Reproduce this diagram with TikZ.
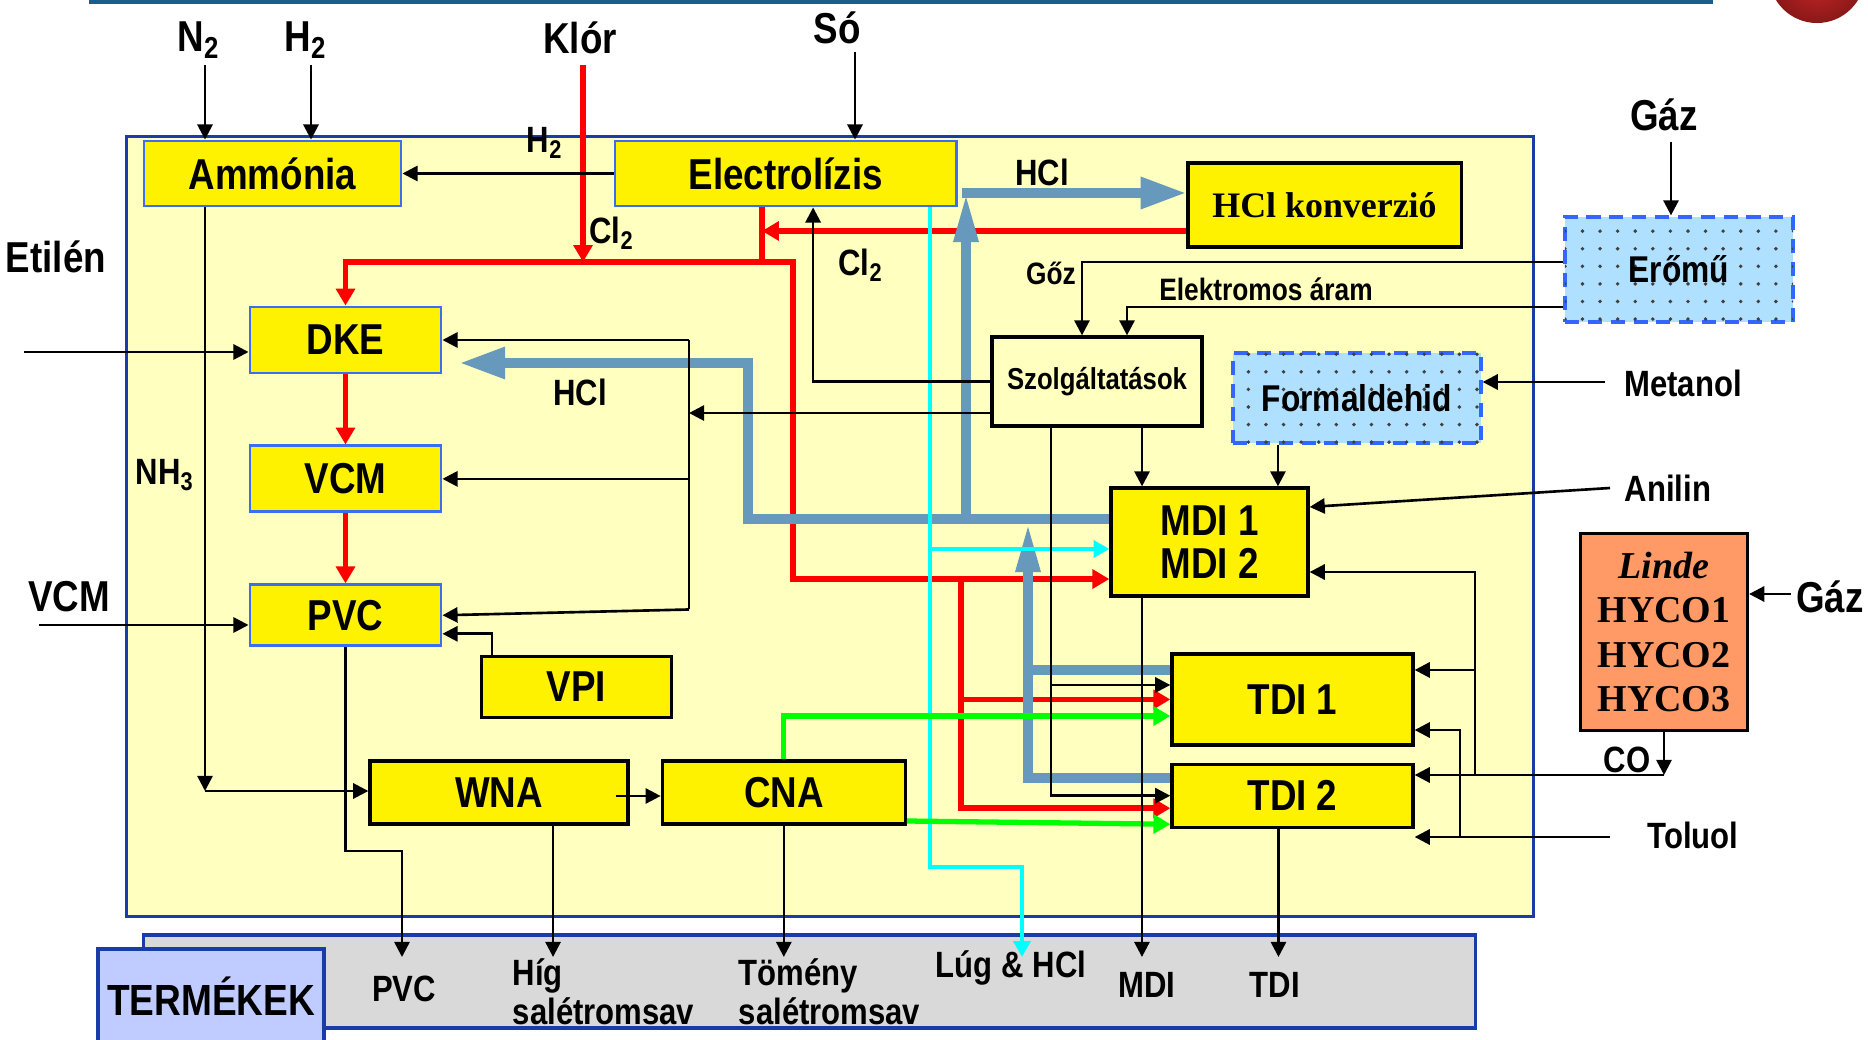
\documentclass[tikz,border=0pt]{standalone}
\usepackage{fontspec}
\setmainfont{Liberation Sans}[FakeStretch=0.85]
\newfontfamily\timesfont{Liberation Serif}
\usetikzlibrary{positioning,arrows.meta,patterns.meta}

\definecolor{plantbg}{HTML}{FFFFC0}
\definecolor{plantedge}{HTML}{1A3CA8}
\definecolor{boxedge}{HTML}{3C6EF0}
\definecolor{hclblue}{HTML}{6699BB}
\definecolor{skyfill}{HTML}{B0E0FF}
\definecolor{dashedge}{HTML}{3366FF}
\definecolor{lindefill}{HTML}{FF9966}
\definecolor{prodgray}{HTML}{D9D9D9}
\definecolor{termfill}{HTML}{C0CCFF}
\definecolor{topblue}{HTML}{1B5E8C}
\definecolor{ballin}{HTML}{D02828}
\definecolor{ballout}{HTML}{8A1818}
\definecolor{lugcyan}{HTML}{00FFFF}
\definecolor{nitrogreen}{HTML}{00FF00}

\begin{document}
\begin{tikzpicture}[x=0.01cm, y=-0.01cm, >={Triangle[length=4.3pt, width=4.3pt]}, line width=0.75pt]
    \tikzset{
        plantbox/.style={draw=plantedge, line width=0.8pt, fill=plantbg, inner sep=0pt},
        prodbox/.style={draw=plantedge, line width=0.9pt, fill=prodgray, inner sep=0pt},
        termbox/.style={draw=plantedge, line width=0.9pt, fill=termfill, inner sep=0pt, font=\fontsize{12.4}{13}\selectfont\bfseries},
        ybox/.style={draw=boxedge, line width=0.8pt, fill=yellow, inner sep=0pt, align=center, font=\fontsize{12.3}{12.2}\selectfont\bfseries},
        plainybox/.style={ybox, draw=black, line width=0.9pt},
        utilbox/.style={draw=dashedge, dash pattern=on 4pt off 2.5pt, line width=0.9pt, fill=skyfill, postaction={pattern={Dots[radius=0.55pt, distance=5pt]}, pattern color=black!75}, inner sep=0pt, font=\fontsize{10.6}{11}\selectfont\bfseries},
        feedlbl/.style={font=\fontsize{12.3}{13}\selectfont\bfseries, inner sep=1pt},
        lbl/.style={font=\fontsize{10.4}{11}\selectfont\bfseries, inner sep=1pt},
        smalllbl/.style={font=\fontsize{8.8}{10}\selectfont\bfseries, inner sep=1pt},
        redline/.style={draw=red, line width=1.6pt, -{Triangle[length=4.8pt, width=5.3pt]}},
        cyanline/.style={draw=lugcyan, line width=1.4pt, -{Triangle[length=4.5pt, width=4.8pt]}},
        greenline/.style={draw=nitrogreen, line width=1.5pt, -{Triangle[length=4.8pt, width=5.3pt]}},
        hclline/.style={draw=hclblue, line width=2.7pt, -{Triangle[length=13pt, width=8.5pt]}},
        hclup/.style={draw=hclblue, line width=2.7pt, -{Triangle[length=14pt, width=6.5pt]}}
    }
    \useasboundingbox (0,0) rectangle (1868,1040);

    % slide decoration
    \draw [topblue, line width=1.2pt] (89,1.5) -- (1713,1.5);
    \shade [inner color=ballin, outer color=ballout] (1817,-25) circle [radius=0.48cm];

    % frames
    \node [plantbox, minimum width=14.06cm, minimum height=7.79cm] (plant) at (830,526.5) {};
    \node [prodbox, minimum width=13.31cm, minimum height=0.93cm] (prodbar) at (809.5,981.5) {};
    \node [termbox, minimum width=2.26cm, minimum height=0.94cm] (termek) at (211,996) {TERMÉKEK};

    % units
    \node [ybox, minimum width=2.57cm, minimum height=0.65cm] (ammonia) at (272.5,173.5) {Ammónia};
    \node [ybox, minimum width=3.41cm, minimum height=0.65cm, right=2.11cm of ammonia] (elektro) {Electrolízis};
    \node [plainybox, font=\timesfont\fontsize{10.2}{11}\selectfont\bfseries, minimum width=2.73cm, minimum height=0.84cm] (hclkonv) at (1324.5,205) {HCl konverzió};
    \node [ybox, minimum width=1.91cm, minimum height=0.66cm] (dke) at (345.5,340) {DKE};
    \node [ybox, minimum width=1.91cm, minimum height=0.66cm, below=0.7cm of dke] (vcm) {VCM};
    \node [ybox, minimum width=1.91cm, minimum height=0.61cm, below=0.7cm of vcm] (pvc) {PVC};
    \node [plainybox, minimum width=1.9cm, minimum height=0.61cm] (vpi) at (576.5,687) {VPI};
    \node [plainybox, minimum width=2.58cm, minimum height=0.63cm] (wna) at (499,792.5) {WNA};
    \node [plainybox, minimum width=2.43cm, minimum height=0.63cm, right=0.31cm of wna] (cna) {CNA};
    \node [plainybox, fill=plantbg, font=\fontsize{8.6}{10}\selectfont\bfseries, minimum width=2.1cm, minimum height=0.89cm] (szolg) at (1097,381.5) {Szolgáltatások};
    \node [utilbox, minimum width=2.48cm, minimum height=0.9cm] (formald) at (1357,398) {Formaldehid};
    \node [utilbox, minimum width=2.28cm, minimum height=1.05cm] (eromu) at (1679,269.5) {Erőmű};
    \node [plainybox, minimum width=1.97cm, minimum height=1.08cm] (mdi) at (1209.5,542) {MDI 1\\MDI 2};
    \node [plainybox, minimum width=2.41cm, minimum height=0.91cm] (tdi1) at (1292.5,699.5) {TDI 1};
    \node [plainybox, minimum width=2.41cm, minimum height=0.63cm, below=0.16cm of tdi1] (tdi2) {TDI 2};
    \node [plainybox, fill=lindefill, font=\timesfont\fontsize{10.8}{12.6}\selectfont\bfseries, minimum width=1.67cm, minimum height=1.97cm] (linde) at (1664,632) {{\itshape Linde}\\HYCO1\\HYCO2\\HYCO3};

    % labels
    \node [feedlbl] (n2lbl) at (199,40) {N\textsubscript{2}};
    \node [feedlbl] (h2lbl) at (306,40) {H\textsubscript{2}};
    \node [feedlbl] (klor) at (580,38) {Klór};
    \node [feedlbl] (so) at (837,28) {Só};
    \node [feedlbl] (gazfent) at (1664,115) {Gáz};
    \node [feedlbl] (etilen) at (56,257) {Etilén};
    \node [feedlbl] (vcmbe) at (69,597) {VCM};
    \node [feedlbl] (gazjobb) at (1830,597) {Gáz};
    \node [lbl] (metanol) at (1683,383) {Metanol};
    \node [lbl] (anilin) at (1668,488) {Anilin};
    \node [lbl] (toluol) at (1693,835) {Toluol};
    \node [lbl] (colbl) at (1627,760) {CO};
    \node [lbl] (h2el) at (545,143) {H\textsubscript{2}};
    \node [lbl] (cl2a) at (612,233) {Cl\textsubscript{2}};
    \node [lbl] (cl2b) at (861,265) {Cl\textsubscript{2}};
    \node [lbl] (hcla) at (1042,172) {HCl};
    \node [lbl] (hclb) at (580,392) {HCl};
    \node [lbl] (nh3) at (165,475) {NH\textsubscript{3}};
    \node [smalllbl] (goz) at (1051,273) {Gőz};
    \node [smalllbl] (aram) at (1266,289) {Elektromos áram};
    \node [lbl] (pvcki) at (404,989) {PVC};
    \node [lbl, anchor=west, align=left] (hig) at (508,992) {Híg\\salétromsav};
    \node [lbl, anchor=west, align=left] (tomeny) at (734,992) {Tömény\\salétromsav};
    \node [lbl] (lug) at (1011,968) {Lúg \& HCl};
    \node [lbl] (mdiki) at (1147,985) {MDI};
    \node [lbl] (tdiki) at (1275,985) {TDI};

    % free ends and bends
    \coordinate (n2be) at (205,65);
    \coordinate (h2be) at (311,65);
    \coordinate (klorbe) at (583,65);
    \coordinate (sobe) at (855,52);
    \coordinate (gazbe) at (1671,142);
    \coordinate (etilenbe) at (24,352);
    \coordinate (vcmbe2) at (39,625);
    \coordinate (metanolbe) at (1605,382);
    \coordinate (anilinbe) at (1610,488);
    \coordinate (toluolbe) at (1610,837);
    \coordinate (toluolkanyar) at (1460,837);
    \coordinate (gazjobbbe) at (1791,594);
    \coordinate (clsin) at (793,262);
    \coordinate (cldrop) at (762,262);
    \coordinate (clret) at (762,231);
    \coordinate (cltdi) at (961,579);
    \coordinate (hclfent) at (962,193);
    \coordinate (hclfel) at (966,519);
    \coordinate (hclkanyar) at (748,363);
    \coordinate (hcltdi) at (1028,523);
    \coordinate (lugkanyar) at (930,867);
    \coordinate (lugveg) at (1022,957);
    \coordinate (nh3kanyar) at (205,791);
    \coordinate (sinfent) at (689,340);
    \coordinate (sinlent) at (689,609.5);
    \coordinate (cokanyar) at (1664,775);
    \coordinate (mdibe) at (1475,775);
    \coordinate (termekszint) at (0,957);
    \coordinate (pvckanyar) at (402,851);

    % chlorine
    \draw [redline] (klorbe) -- (klorbe |- clsin);
    \draw [redline, {Triangle[length=4.8pt, width=5.3pt]}-{Triangle[length=4.8pt, width=5.3pt]}] (dke.north) |- (clsin) |- ([yshift=-0.37cm]mdi.west);
    \draw [redline, -] (cldrop |- elektro.south) -- (cldrop);
    \draw [redline] (clret -| hclkonv.west) -- (clret);
    \draw [redline] (cltdi) |- ([yshift=-0.125cm]tdi2.west);
    \draw [redline] (cltdi |- tdi1.west) -- (tdi1.west);
    \draw [redline] (dke) -- (vcm);
    \draw [redline] (vcm) -- (pvc);

    % hydrogen chloride
    \draw [hclline] (hclfent) -- (hclfent -| hclkonv.west);
    \draw [hclup] (hclfel) -- (hclfel |- hclfent);
    \draw [hclline] ([yshift=0.23cm]mdi.west) -| (hclkanyar) -- ([xshift=0.17cm]dke.east |- hclkanyar);
    \draw [hclup] ([yshift=0.175cm]tdi2.west) -| (hcltdi);
    \draw [hclblue, line width=2.7pt] ([yshift=0.295cm]tdi1.west) -- ([yshift=0.295cm]tdi1.west -| hcltdi);

    % caustic, nitric acid
    \draw [cyanline] (lugkanyar |- elektro.south) -- (lugkanyar) -| (lugveg);
    \draw [cyanline] ([yshift=-0.07cm]mdi.west -| lugkanyar) -- ([yshift=-0.07cm]mdi.west);
    \draw [greenline] (cna.north) |- ([yshift=-0.165cm]tdi1.west);
    \draw [greenline] ([yshift=-0.285cm]cna.east) -- ([yshift=-0.285cm]tdi2.west);

    % feeds
    \draw [->] (n2be) -- (n2be |- ammonia.north);
    \draw [->] (h2be) -- (h2be |- ammonia.north);
    \draw [->] (sobe) -- (sobe |- elektro.north);
    \draw [->] (elektro.west) -- (ammonia.east);
    \draw [->] (etilenbe) -- (etilenbe -| dke.west);
    \draw [->] (vcmbe2) -- (vcmbe2 -| pvc.west);
    \draw [->] (nh3kanyar |- ammonia.south) -- (nh3kanyar);
    \draw [->] (nh3kanyar) -- (nh3kanyar -| wna.west);
    \draw [->] ([xshift=-0.14cm, yshift=-0.035cm]wna.east) -- ([yshift=-0.035cm]cna.west);
    \draw [->] ([xshift=-0.845cm]vpi.north) |- ([yshift=-0.185cm]pvc.east);

    % utilities
    \draw (sinfent) -- (sinlent);
    \draw [->] (sinfent) -- (dke.east);
    \draw [->] (sinfent |- vcm.east) -- (vcm.east);
    \draw [->] (sinlent) -- (pvc.east);
    \draw [->] ([yshift=-0.315cm]szolg.west) -- ([yshift=-0.315cm]szolg.west -| sinfent);
    \draw [->] (szolg.west) -| ([xshift=0.275cm]elektro.south);
    \draw [->] (gazbe) -- (gazbe |- eromu.north);
    \draw [->] ([yshift=0.075cm]eromu.west) -| ([xshift=-0.15cm]szolg.north);
    \draw [->] ([yshift=-0.375cm]eromu.west) -| ([xshift=0.3cm]szolg.north);
    \draw [->] (metanolbe) -- (metanolbe -| formald.east);
    \draw [->] ([xshift=0.45cm]szolg.south) -- ([xshift=0.45cm]szolg.south |- mdi.north);
    \draw [->] ([xshift=-0.79cm]formald.south) -- ([xshift=-0.79cm]formald.south |- mdi.north);
    \draw [->] (anilinbe) -- ([yshift=0.35cm]mdi.east);
    \draw [->] ([xshift=-0.46cm]szolg.south) |- (tdi2.west);
    \draw [->] ([xshift=-0.46cm, yshift=0.145cm]tdi1.west -| szolg.south) -- ([yshift=0.145cm]tdi1.west);

    % CO, toluol
    \draw [->] (linde.south) -- (cokanyar);
    \draw [->] (cokanyar) -- (cokanyar -| tdi2.east);
    \draw [->] (mdibe) |- ([yshift=-0.3cm]mdi.east);
    \draw [->] ([yshift=0.295cm]tdi1.east -| mdibe) -- ([yshift=0.295cm]tdi1.east);
    \draw [->] (toluolbe) -- (toluolbe -| tdi2.east);
    \draw [->] (toluolkanyar) |- ([yshift=-0.305cm]tdi1.east);
    \draw [->] (gazjobbbe) -- (gazjobbbe -| linde.east);

    % products
    \draw [->] (pvc.south) |- (pvckanyar) -- (pvckanyar |- termekszint);
    \draw [->] ([xshift=0.54cm, yshift=-0.3cm]wna.center) -- ([xshift=0.54cm]wna.center |- termekszint);
    \draw [->] ([yshift=-0.3cm]cna.center) -- (cna.center |- termekszint);
    \draw [->] ([xshift=-0.675cm]mdi.south) -- ([xshift=-0.675cm]mdi.south |- termekszint);
    \draw [->] ([xshift=-0.14cm]tdi2.south) -- ([xshift=-0.14cm]tdi2.south |- termekszint);
\end{tikzpicture}
\end{document}
